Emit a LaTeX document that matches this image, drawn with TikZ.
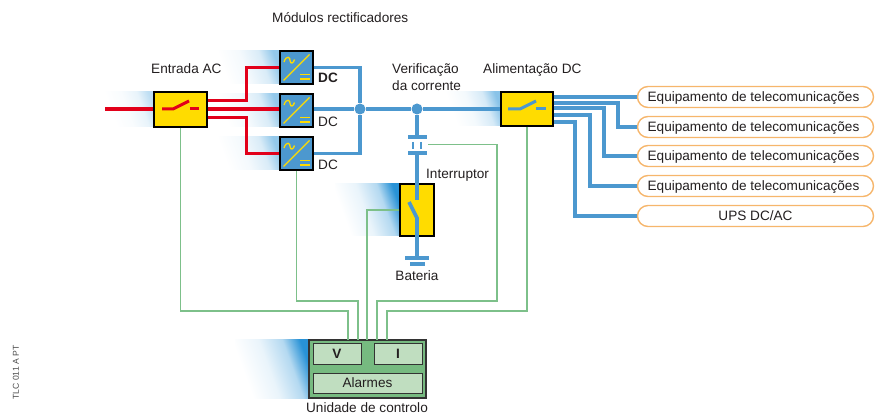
\documentclass[tikz,border=0pt]{standalone}
\usepackage{fontspec}
\setmainfont{Liberation Sans}
\usepackage{xcolor}
\definecolor{dcblue}{RGB}{76,152,207}
\definecolor{shadeblue}{RGB}{40,146,214}
\definecolor{acred}{RGB}{226,0,26}
\definecolor{boxyellow}{RGB}{255,220,0}
\definecolor{ctrlgreen}{RGB}{118,186,128}
\definecolor{ctrllight}{RGB}{192,222,192}
\definecolor{wiregreen}{RGB}{125,192,138}
\definecolor{ovalorange}{RGB}{246,182,108}
\definecolor{textdark}{RGB}{35,31,32}
\usetikzlibrary{
    arrows.meta,
    positioning,
    calc
}
\pgfdeclarehorizontalshading{glowshade}{100bp}{color(0bp)=(white); color(30bp)=(white); color(48bp)=(shadeblue!10); color(64bp)=(shadeblue!35); color(76bp)=(shadeblue!100); color(100bp)=(shadeblue)}

\begin{document}
\begin{tikzpicture}[
        x=1pt, y=-1pt,
        basetext/.style={inner sep=0pt, text=textdark, font=\fontsize{13.6}{17}\selectfont},
        label/.style={basetext, text height=12pt, text depth=3pt},
        switchbox/.style={rectangle, draw=black, line width=1.2pt, fill=boxyellow, minimum width=#1, inner sep=0pt},
        rectbox/.style={rectangle, draw=black, line width=1.2pt, fill=dcblue, minimum width=33pt, minimum height=33pt, inner sep=0pt},
        oval/.style={label, rectangle, rounded corners=10.5pt, draw=ovalorange, line width=1.4pt, fill=white, minimum width=236pt, minimum height=21pt},
        inner/.style={label, rectangle, draw=black!80, line width=1pt, fill=ctrllight, minimum height=20pt},
        junction/.style={circle, fill=dcblue, minimum size=11pt, inner sep=0pt},
        acline/.style={acred, line width=3.6pt},
        dcline/.style={dcblue, line width=3.6pt},
        wire/.style={wiregreen, line width=1.6pt},
        symline/.style={boxyellow, line width=1.3pt},
        glow/.style={shading=glowshade, shading angle=20, opacity=#1}
    ]
        \useasboundingbox (0,0) rectangle (879,414);

        % shaded backgrounds
        \shade[glow=.3] (105,92) rectangle (154,127);
        \shade[glow=.5] (215,51) rectangle (280,84);
        \shade[glow=.5] (215,94) rectangle (280,127);
        \shade[glow=.5] (215,137) rectangle (280,170);
        \shade[glow=.55] (445,92) rectangle (501,126);
        \shade[glow=1] (335,184) rectangle (400,236);
        \shade[glow=1] (235,340) rectangle (309,398);

        % boxes
        \node[switchbox=53pt, minimum height=35pt] (acSwitch) at (180.5,109.5) {};
        \node[rectbox] (retA) at (296.5,67.5) {};
        \node[rectbox] (retB) at (296.5,110.5) {};
        \node[rectbox] (retC) at (296.5,153.5) {};
        \node[switchbox=52pt, minimum height=34pt] (dcSwitch) at (527,109) {};
        \node[switchbox=34pt, minimum height=52pt] (batSwitch) at (417,210) {};

        \node[rectangle, draw=black!80, line width=1.2pt, fill=ctrlgreen, minimum width=117pt, minimum height=58pt] (ctrl) at (367.5,369) {};
        \node[inner, minimum width=48pt] (ctrlV) at (337,354) {\textbf{V}};
        \node[inner, minimum width=48pt] (ctrlI) at (398,354) {\textbf{I}};
        \node[inner, minimum width=109pt] (ctrlAlarm) at (367.5,383) {Alarmes};

        \node[oval] (eqA) at (755.5,97) {\hspace{-4pt}Equipamento de telecomunicações};
        \node[oval] (eqB) at (755.5,127) {\hspace{-4pt}Equipamento de telecomunicações};
        \node[oval] (eqC) at (755.5,156) {\hspace{-4pt}Equipamento de telecomunicações};
        \node[oval] (eqD) at (755.5,186) {\hspace{-4pt}Equipamento de telecomunicações};
        \node[oval] (ups) at (755.5,216) {UPS DC/AC};

        \node[junction] (dotRet) at (360,109) {};
        \node[junction] (dotCheck) at (417,109) {};

        \coordinate (capTop) at (417,137);
        \coordinate (capBot) at (417,153);
        \coordinate (capWire) at (428,144.5);
        \coordinate (batTop) at (417,258);
        \coordinate (acIn) at (105,109);

        % AC side
        \draw[acline] (acIn) -- (acSwitch.west |- acIn);
        \draw[acline] ([yshift=9pt]acSwitch.east) -- ++(39,0) |- (retA.west);
        \draw[acline] (acSwitch.east |- acIn) -- (retB.west |- acIn);
        \draw[acline] ([yshift=-8pt]acSwitch.east) -- ++(39,0) |- (retC.west);
        \draw[acline, line width=3pt] (162,109) -- (173,109) -- (189,101);
        \draw[acline, line width=3pt] (190,109) -- (199,109);

        % DC side
        \draw[dcline] (retA.east) -| (dotRet);
        \draw[dcline] (retC.east) -| (dotRet);
        \draw[dcline] (retB.east |- dotRet) -- (dotRet);
        \draw[dcline] (dotRet) -- (dotCheck);
        \draw[dcline] (dotCheck) -- (dcSwitch.west);
        \draw[dcline] (dotCheck) -- (capTop);
        \draw[dcline] (capBot) -- (batSwitch.north) -- ++(0,17);
        \draw[dcline] (409,202) -- (417,218) -- (batSwitch.south) -- (batTop);
        \draw[dcline] (408,137) -- (427,137);
        \draw[dcline] (408,153) -- (427,153);
        \draw[dcblue, line width=1.6pt] (413,142) -- (413,149);
        \draw[dcblue, line width=1.6pt] (421,142) -- (421,149);
        \draw[dcline] (405,258) -- (429,258);
        \draw[dcline] (410,264) -- (425,264);
        \draw[dcline, line width=3pt] (508,109) -- (520,109) -- (536,101);
        \draw[dcline, line width=3pt] (536,109) -- (546,109);

        \draw[dcline] (dcSwitch.east |- eqA) -- (eqA.west);
        \draw[dcline] ([yshift=6pt]dcSwitch.east) -- (618,103) |- (eqB.west);
        \draw[dcline] ([yshift=1pt]dcSwitch.east) -- (604,108) |- (eqC.west);
        \draw[dcline] ([yshift=-6pt]dcSwitch.east) -- (590,115) |- (eqD.west);
        \draw[dcline] ([yshift=-13pt]dcSwitch.east) -- (575,122) |- (ups.west);

        % control wires
        \draw[wire] (acSwitch.south) |- (348,311) -- (348,340);
        \draw[wire] (retC.south) |- (358,301) -- (358,340);
        \draw[wire] (batSwitch.west) -| (367,340);
        \draw[wire] (capWire) -| (497,301) -| (377,340);
        \draw[wire] (dcSwitch.south) |- (387,311) -- (387,340);

        % rectifier symbols
        \foreach \ret in {retA,retB,retC} {
            \draw[symline] ($(\ret.center)+(-13,13)$) -- ($(\ret.center)+(13,-13)$);
            \draw[symline] ($(\ret.center)+(-12.5,-5.5)$) .. controls ($(\ret.center)+(-10,-13)$) and ($(\ret.center)+(-6,-10)$) .. ($(\ret.center)+(-6.5,-7)$) .. controls ($(\ret.center)+(-6,-3)$) and ($(\ret.center)+(-3,-4)$) .. ($(\ret.center)+(-2,-8)$);
            \draw[symline] ($(\ret.center)+(3.5,7)$) -- ($(\ret.center)+(13,7)$);
            \draw[symline] ($(\ret.center)+(3.5,11.5)$) -- ($(\ret.center)+(13,11.5)$);
        }

        % texts
        \node[label, anchor=west] (modTitle) at (272,18) {Módulos rectificadores};
        \node[label, anchor=west] (acTitle) at (151,69) {Entrada AC};
        \node[label, anchor=west] (dcA) at (318,78) {\textbf{DC}};
        \node[label, anchor=west] (dcB) at (318,122) {DC};
        \node[label, anchor=west] (dcC) at (318,165) {DC};
        \node[basetext, anchor=north west, align=left] (checkTitle) at (392,63) {Verificação\\da corrente};
        \node[label, anchor=west] (dcTitle) at (483,69) {Alimentação DC};
        \node[label, anchor=west] (swTitle) at (426,174) {Interruptor};
        \node[label] (batTitle) at (417,276) {Bateria};
        \node[label] (ctrlTitle) at (367,408) {Unidade de controlo};
        \node[inner sep=0pt, rotate=90, text=black!70, font=\fontsize{8.6}{9}\selectfont] (refCode) at (16,372.5) {TLC 011 A PT};
    \end{tikzpicture}
\end{document}
